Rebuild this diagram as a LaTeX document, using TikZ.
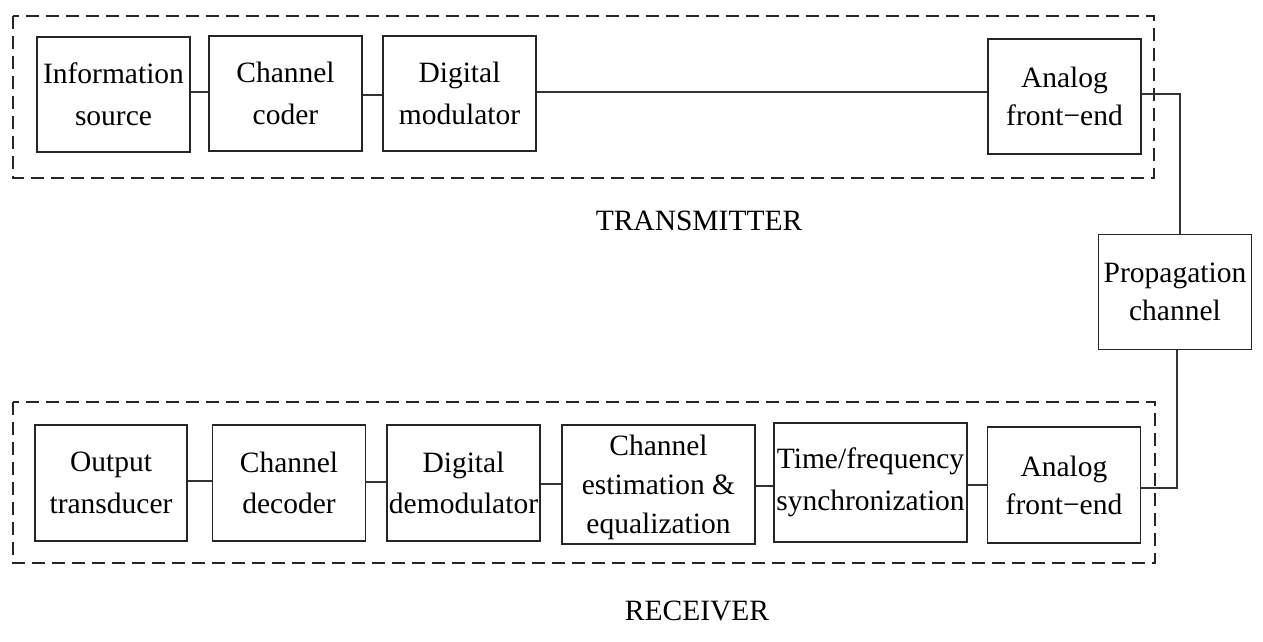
\documentclass[tikz,border=0pt]{standalone}
\usepackage{fontspec}
\setmainfont{Liberation Serif}
\begin{document}
\begin{tikzpicture}[x=1pt,y=-1pt,
  blk/.style={draw=black!85, line width=1.3pt, align=center, inner sep=0pt,
    font=\fontsize{29.5}{41.5}\selectfont},
  tight/.style={font=\fontsize{29.5}{38}\selectfont},
  wire/.style={draw=black!80, line width=1.3pt},
  grp/.style={draw=black!85, line width=1.2pt, dash pattern=on 13pt off 7pt},
  lbl/.style={font=\fontsize{29.5}{36}\selectfont, inner sep=0pt}]
\useasboundingbox (0,0) rectangle (1263,641);
% group frames
\draw[grp] (13,16) rectangle (1154,178);
\draw[grp] (13,402) rectangle (1155,563);
% transmitter
\node[blk, minimum width=153pt, minimum height=115pt] (info) at (113.5,94.5) {Information\\source};
\node[blk, minimum width=153pt, minimum height=115pt] (coder) at (285.5,93.5) {Channel\\coder};
\node[blk, minimum width=153pt, minimum height=115pt] (mod) at (459.5,93.5) {Digital\\modulator};
\node[blk, tight, minimum width=153pt, minimum height=115pt] (afeT) at (1064.5,96.5) {Analog\\front\char"2212end};
% channel
\node[blk, tight, minimum width=153pt, minimum height=115pt] (prop) at (1175,292) {Propagation\\channel};
% receiver
\node[blk, minimum width=152pt, minimum height=116pt] (out) at (111,483) {Output\\transducer};
\node[blk, minimum width=153pt, minimum height=116pt] (dec) at (289,483) {Channel\\decoder};
\node[blk, minimum width=153pt, minimum height=116pt] (dem) at (463.5,483) {Digital\\demodulator};
\node[blk, minimum width=193pt, minimum height=119pt] (est) at (658.5,484.5) {};
\node[font=\fontsize{29.5}{39}\selectfont, align=center, inner sep=0pt] (estx) at ([yshift=-3pt]est.center) {Channel\\estimation \&\\equalization};
\node[blk, minimum width=193pt, minimum height=119pt] (sync) at (870.5,482.5) {Time/frequency\\synchronization};
\node[blk, tight, minimum width=153pt, minimum height=116pt] (afeR) at (1064,485) {Analog\\front\char"2212end};
% labels
\node[lbl] (tx) at (699,220.5) {TRANSMITTER};
\node[lbl] (rx) at (697,610.5) {RECEIVER};
% connectors
\draw[wire] (info.east |- 0,92) -- (coder.west |- 0,92);
\draw[wire] (coder.east |- 0,95) -- (mod.west |- 0,95);
\draw[wire] (mod.east |- 0,92) -- (afeT.west |- 0,92);
\draw[wire] (afeT.east |- 0,94) -| (prop.north -| 1180,0);
\draw[wire] (prop.south -| 1177,0) |- (afeR.east |- 0,488);
\draw[wire] (afeR.west |- 0,485) -- (sync.east |- 0,485);
\draw[wire] (sync.west |- 0,486) -- (est.east |- 0,486);
\draw[wire] (est.west |- 0,484) -- (dem.east |- 0,484);
\draw[wire] (dem.west |- 0,482) -- (dec.east |- 0,482);
\draw[wire] (dec.west |- 0,481) -- (out.east |- 0,481);
\end{tikzpicture}
\end{document}
